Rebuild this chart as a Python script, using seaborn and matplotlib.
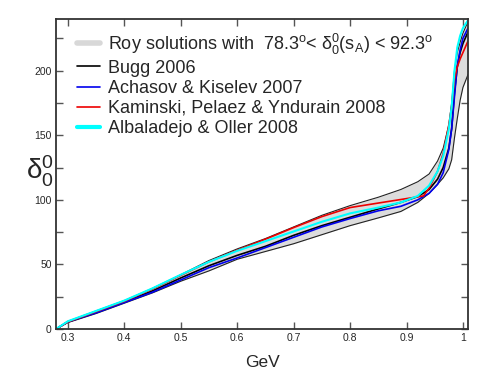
import numpy as np
import pandas as pd
import matplotlib
matplotlib.use('Agg')
import matplotlib.pyplot as plt
import seaborn as sns
from matplotlib.lines import Line2D

# energy grid (GeV) shared by most curves
energy = [0.279, 0.30, 0.35, 0.40, 0.45, 0.50, 0.55, 0.60, 0.65, 0.70, 0.75, 0.80,
          0.85, 0.89, 0.92, 0.94, 0.955, 0.965, 0.975, 0.98, 0.985, 0.99, 0.995, 1.0, 1.009]

# Roy band edges
roy_upper = [0, 6, 14, 22, 31.5, 42, 53, 62, 70, 79, 88, 95.5,
             102, 108, 114, 120, 130, 140, 158, 175, 200, 214, 222, 229, 238]
roy_lower = [0, 5, 12, 20, 28, 37, 45, 54, 60, 66, 73, 80,
             86, 91, 98, 105, 112, 117, 124, 131, 148, 163, 177, 187, 197]

bugg = [0, 5.5, 13, 21, 29.5, 39.5, 49, 57, 64, 72.5, 80, 86.5,
        93, 98, 102.5, 108, 116, 125, 140, 155, 183, 203, 214, 221, 230]
achasov = [0, 5.5, 12.5, 20.5, 28.5, 38, 47.5, 55, 63, 71, 79, 85.5,
           91.5, 95, 100, 105, 112, 121, 139, 155, 180, 204, 216, 225, 233]
albaladejo = [0, 6, 14, 22, 31.5, 42, 52, 60.5, 68, 75.5, 83, 89.5,
              94, 98, 103, 111, 122, 134, 155, 172, 200, 218, 227, 233, 239]

# KPY curve has its own grid (straight segment up to the kink near 0.93 GeV)
kpy_energy = [0.279, 0.30, 0.35, 0.40, 0.45, 0.50, 0.55, 0.60, 0.65, 0.70, 0.75, 0.80,
              0.85, 0.93, 0.94, 0.955, 0.965, 0.975, 0.98, 0.985, 0.99, 0.995, 1.0, 1.009]
kpy = [0, 5.5, 13.5, 21.5, 31, 41.5, 52, 61, 69.5, 78.5, 87, 94,
       97.5, 103, 109, 122, 136, 158, 172, 193, 203, 209, 214, 223]

labels = ['Roy solutions with  78.3$^{\\mathrm{o}}$< $\\mathrm{\\delta}_0^0$(s$_{\\mathrm{A}}$) < 92.3$^{\\mathrm{o}}$',
          'Bugg 2006', 'Achasov & Kiselev 2007',
          'Kaminski, Pelaez & Yndurain 2008', 'Albaladejo & Oller 2008']

sns.set_style('ticks')
plt.rcParams['font.family'] = ['Liberation Sans', 'DejaVu Sans']
plt.rcParams['mathtext.fontset'] = 'custom'
plt.rcParams['mathtext.rm'] = 'Liberation Sans'
plt.rcParams['mathtext.it'] = 'Liberation Sans:italic'

fig = plt.figure(figsize=(4.85, 3.74), dpi=100)
ax = fig.add_axes([0.1155, 0.1203, 0.8495, 0.829])

ax.fill_between(energy, roy_lower, roy_upper, color='#dcdcdc', lw=0)
sns.lineplot(x=energy, y=roy_upper, color='#222222', lw=0.8, ax=ax, sort=False)
sns.lineplot(x=energy, y=roy_lower, color='#222222', lw=0.8, ax=ax, sort=False)
sns.lineplot(x=energy, y=bugg, color='black', lw=1.2, ax=ax, sort=False)
sns.lineplot(x=energy, y=achasov, color='#0000ee', lw=1.2, ax=ax, sort=False)
sns.lineplot(x=kpy_energy, y=kpy, color='#ee0000', lw=1.2, ax=ax, sort=False)
sns.lineplot(x=energy, y=albaladejo, color='cyan', lw=1.5, ax=ax, sort=False)

ax.set_xlim(0.279, 1.009)
ax.set_ylim(0, 240)
ax.set_xticks([0.3, 0.4, 0.5, 0.6, 0.7, 0.8, 0.9, 1.0])
ax.set_xticklabels(['0.3', '0.4', '0.5', '0.6', '0.7', '0.8', '0.9', '1'])
ax.set_yticks([0, 50, 100, 150, 200])
ax.set_yticks([25, 75, 125, 175, 225], minor=True)
ax.tick_params(which='both', direction='in', top=True, right=True,
               color='#555555', labelsize=7.5, pad=3)
ax.tick_params(which='major', length=5, width=1)
ax.tick_params(which='minor', length=5, width=1)
for s in ax.spines.values():
    s.set_color('#333333')
    s.set_linewidth(1.3)

ax.set_xlabel('GeV', fontsize=12.5)
ax.xaxis.set_label_coords(0.5, -0.085)
ax.set_ylabel('$\\mathrm{\\delta}_0^0$', fontsize=20, rotation=0,
              family=['DejaVu Serif'])
ax.yaxis.set_label_coords(-0.04, 0.45)

handles = [Line2D([], [], color='#d8d8d8', lw=4),
           Line2D([], [], color='black', lw=1.2),
           Line2D([], [], color='#0000ee', lw=1.2),
           Line2D([], [], color='#ee0000', lw=1.2),
           Line2D([], [], color='cyan', lw=3)]
ax.legend(handles, labels, loc='upper left', bbox_to_anchor=(0.02, 1.0),
          frameon=False, fontsize=13, handlelength=1.3, handletextpad=0.4,
          labelspacing=0.17, borderaxespad=0.3)

fig.savefig('out.png', dpi=100)
